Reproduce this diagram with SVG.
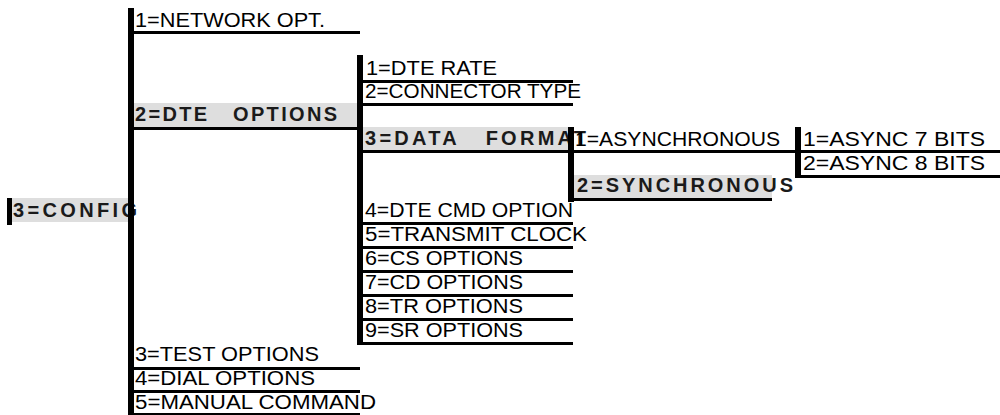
<svg xmlns="http://www.w3.org/2000/svg" width="1000" height="415" viewBox="0 0 1000 415">
  <style>
    text { font-family: "Liberation Sans", Arial, sans-serif; fill: #000; white-space: pre; }
    .item { font-size: 20px; }
    .sel { font-size: 20px; font-weight: bold; fill: #1a1a1a; }
    .hl { fill: #dedede; }
    .bar { fill: #000; }
  </style>

  <rect width="1000" height="415" fill="#fff"/>

  <!-- highlighted (selected) menu entries -->
  <g id="config">
    <rect class="hl" x="12" y="198" width="118" height="24"/>
    <rect class="bar" x="7" y="198" width="5" height="27"/>
    <text class="sel" x="13" y="217" textLength="124" lengthAdjust="spacing">3=CONFIG</text>
  </g>
  <g id="network-opt">
    <text class="item" x="135" y="27" textLength="190" lengthAdjust="spacingAndGlyphs">1=NETWORK OPT.</text>
  </g>
  <g id="dte-options">
    <rect class="hl" x="133" y="103" width="224" height="24"/>
    <text class="sel" x="135" y="121" textLength="202" lengthAdjust="spacing">2=DTE   OPTIONS</text>
  </g>
  <g id="dte-rate">
    <text class="item" x="366" y="75" textLength="131" lengthAdjust="spacingAndGlyphs">1=DTE RATE</text>
  </g>
  <g id="connector-type">
    <text class="item" x="365" y="98" textLength="216" lengthAdjust="spacingAndGlyphs">2=CONNECTOR TYPE</text>
  </g>
  <g id="data-format">
    <rect class="hl" x="363" y="127" width="206" height="24"/>
    <text class="sel" x="365" y="145" textLength="221" lengthAdjust="spacing">3=DATA   FORMAT</text>
  </g>
  <g id="asynchronous">
    <text class="item" x="575" y="146" textLength="205" lengthAdjust="spacingAndGlyphs">1=ASYNCHRONOUS</text>
  </g>
  <g id="async-7">
    <text class="item" x="803" y="146" textLength="182" lengthAdjust="spacingAndGlyphs">1=ASYNC 7 BITS</text>
  </g>
  <g id="async-8">
    <text class="item" x="803" y="170" textLength="182" lengthAdjust="spacingAndGlyphs">2=ASYNC 8 BITS</text>
  </g>
  <g id="synchronous">
    <rect class="hl" x="574" y="175" width="198" height="24"/>
    <text class="sel" x="577" y="192" textLength="216" lengthAdjust="spacing">2=SYNCHRONOUS</text>
  </g>
  <g id="dte-cmd">
    <text class="item" x="365" y="217" textLength="208" lengthAdjust="spacingAndGlyphs">4=DTE CMD OPTION</text>
  </g>
  <g id="transmit-clock">
    <text class="item" x="365" y="241" textLength="222" lengthAdjust="spacingAndGlyphs">5=TRANSMIT CLOCK</text>
  </g>
  <g id="cs-options">
    <text class="item" x="365" y="265" textLength="158" lengthAdjust="spacingAndGlyphs">6=CS OPTIONS</text>
  </g>
  <g id="cd-options">
    <text class="item" x="365" y="289" textLength="158" lengthAdjust="spacingAndGlyphs">7=CD OPTIONS</text>
  </g>
  <g id="tr-options">
    <text class="item" x="365" y="313" textLength="158" lengthAdjust="spacingAndGlyphs">8=TR OPTIONS</text>
  </g>
  <g id="sr-options">
    <text class="item" x="365" y="337" textLength="158" lengthAdjust="spacingAndGlyphs">9=SR OPTIONS</text>
  </g>
  <g id="test-options">
    <text class="item" x="135" y="361" textLength="184" lengthAdjust="spacingAndGlyphs">3=TEST OPTIONS</text>
  </g>
  <g id="dial-options">
    <text class="item" x="135" y="385" textLength="180" lengthAdjust="spacingAndGlyphs">4=DIAL OPTIONS</text>
  </g>
  <g id="manual-command">
    <text class="item" x="135" y="409" textLength="241" lengthAdjust="spacingAndGlyphs">5=MANUAL COMMAND</text>
  </g>

  <!-- menu tree: vertical branch bars and entry underlines -->
  <g id="connectors" class="bar">
    <!-- level 1 -->
    <rect x="128" y="8" width="6" height="407"/>
    <rect x="134" y="31" width="226" height="3"/>
    <rect x="134" y="127" width="223" height="3"/>
    <rect x="134" y="367" width="226" height="3"/>
    <rect x="134" y="390" width="226" height="3"/>
    <rect x="134" y="413" width="226" height="2"/>
    <!-- level 2 -->
    <rect x="357" y="55" width="6" height="290"/>
    <rect x="363" y="80" width="210" height="3"/>
    <rect x="363" y="103" width="210" height="3"/>
    <rect x="363" y="150" width="637" height="3"/>
    <rect x="363" y="222" width="210" height="3"/>
    <rect x="363" y="246" width="210" height="3"/>
    <rect x="363" y="270" width="210" height="3"/>
    <rect x="363" y="294" width="210" height="3"/>
    <rect x="363" y="318" width="210" height="3"/>
    <rect x="363" y="342" width="210" height="3"/>
    <!-- level 3 -->
    <rect x="568" y="127" width="6" height="75"/>
    <rect x="574" y="198" width="198" height="3"/>
    <!-- level 4 -->
    <rect x="795" y="127" width="6" height="51"/>
    <rect x="801" y="175" width="199" height="3"/>
  </g>
</svg>
